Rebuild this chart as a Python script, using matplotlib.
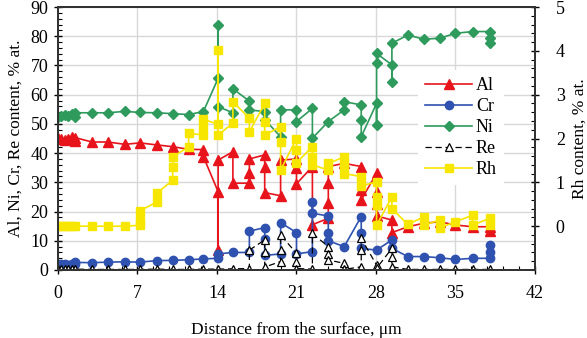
import matplotlib
matplotlib.use("Agg")
import matplotlib.pyplot as plt
from matplotlib.ticker import MultipleLocator

plt.rcParams['font.family'] = ['Liberation Serif', 'DejaVu Serif']

# --- data ---
x_al = [0, 0.3, 0.6, 0.9, 1.2, 1.5, 1.5, 3.0, 4.4, 5.9, 7.2, 8.7, 10.1, 11.5, 12.8, 12.8,
        14.1, 14.1, 14.1, 15.4, 15.4, 16.85, 16.85, 16.85, 18.2, 18.2, 18.2, 19.6, 19.6,
        21.0, 21.0, 21.0, 22.4, 22.4, 23.8, 23.8, 23.8, 23.8, 25.2, 26.7, 26.7, 26.7,
        28.05, 28.05, 28.05, 28.05, 29.4, 29.4, 30.8, 32.2, 33.6, 35.0, 36.5, 38.0, 38.0]
al = [45.2, 45.0, 44.6, 45.0, 45.5, 44.2, 45.3, 43.8, 43.8, 43.0, 43.5, 42.8, 42.2, 41.3, 41.2, 38.8,
      26.8, 6.8, 37.6, 40.5, 29.7, 29.7, 33.2, 38.0, 39.4, 35.4, 26.5, 25.4, 37.6,
      38.0, 34.8, 29.5, 35.4, 15.5, 17.7, 23.0, 29.7, 35.4, 36.5, 35.4, 27.4, 24.0,
      33.1, 26.8, 22.5, 18.5, 17.1, 12.8, 14.8, 16.0, 16.5, 15.4, 14.8, 14.8, 13.2]

x_cr = [0, 0.3, 0.6, 0.9, 1.2, 1.5, 1.5, 3.0, 4.4, 5.9, 7.2, 8.7, 10.1, 11.5, 12.8,
        14.1, 14.1, 15.4, 16.85, 16.85, 18.2, 18.2, 18.2, 19.6, 19.6, 21.0, 21.0,
        22.4, 22.4, 22.4, 23.8, 23.8, 23.8, 25.2, 26.7, 26.7, 26.7, 28.05, 29.4, 29.4,
        30.8, 32.2, 33.6, 35.0, 36.5, 38.0, 38.0, 38.0]
cr = [2.2, 2.0, 2.1, 1.8, 2.0, 1.9, 2.6, 2.5, 2.7, 2.8, 2.7, 3.2, 3.3, 3.5, 3.8,
      4.0, 5.5, 6.0, 6.0, 13.3, 14.5, 10.5, 5.0, 5.5, 16.2, 12.8, 5.5,
      6.3, 23.4, 19.4, 18.5, 12.5, 10.0, 8.0, 18.3, 12.5, 7.4, 6.8, 10.3, 7.4,
      4.6, 4.6, 4.2, 3.6, 4.0, 4.0, 6.3, 8.6]

x_ni = [0, 0.3, 0.6, 0.9, 1.2, 1.5, 1.5, 3.0, 4.4, 5.9, 7.2, 8.7, 10.1, 11.5, 12.8,
        14.1, 14.1, 14.1, 15.4, 15.4, 16.85, 16.85, 18.2, 18.2, 19.6, 19.6, 21.0, 21.0,
        22.4, 22.4, 23.8, 25.2, 25.2, 26.7, 26.7, 26.7, 28.05, 28.05, 28.05, 28.05,
        29.4, 29.4, 29.4, 30.8, 32.2, 33.6, 35.0, 36.5, 38.0, 38.0, 38.0]
ni = [52.5, 52.6, 53.0, 52.8, 53.3, 52.4, 53.8, 53.8, 53.8, 54.3, 53.9, 53.8, 53.5, 53.2, 54.2,
      65.6, 83.8, 55.9, 53.8, 62.0, 57.8, 54.8, 54.2, 51.5, 45.6, 54.8, 54.8, 50.8,
      55.3, 45.1, 50.8, 54.8, 57.6, 56.5, 51.3, 45.6, 57.0, 49.6, 70.7, 74.1,
      70.2, 64.5, 77.6, 80.4, 79.0, 79.3, 81.0, 81.6, 81.6, 79.3, 77.6]

x_re = [0, 0.3, 0.6, 0.9, 1.2, 1.5, 3.0, 4.4, 5.9, 7.2, 8.7, 10.1, 11.5, 12.8, 14.1, 15.4,
        16.85, 16.85, 18.2, 18.2, 18.2, 19.6, 19.6, 19.6, 21.0, 21.0, 21.0, 22.4, 22.4,
        23.8, 23.8, 23.8, 25.2, 25.2, 26.7, 26.7, 26.7, 28.05, 28.05, 29.4, 29.4, 29.4,
        30.8, 32.2, 33.6, 35.0, 36.5, 38.0]
re = [0.3, 0.2, 0.2, 0.3, 0.2, 0.3, 0.2, 0.2, 0.2, 0.2, 0.3, 0.2, 0.2, 0.3, 0.3, 0.4,
      0.5, 6.8, 10.3, 6.0, 1.0, 2.9, 7.0, 12.0, 5.7, 2.9, 0.5, 0.3, 12.5,
      8.0, 5.5, 3.4, 2.3, 0.2, 1.1, 6.8, 10.8, 1.7, 0.6, 7.4, 4.6, 1.1,
      0.2, 0.2, 0.2, 0.2, 0.2, 0.2]

x_rh = [0, 0.3, 0.6, 0.9, 1.2, 1.5, 3.0, 4.4, 5.9, 7.2, 7.2, 7.2, 8.7, 8.7, 10.1, 10.1, 10.1,
        11.5, 11.5, 12.8, 12.8, 12.8, 14.1, 14.1, 14.1, 15.4, 15.4, 16.85, 16.85,
        18.2, 18.2, 18.2, 19.6, 19.6, 19.6, 21.0, 21.0, 21.0, 22.4, 22.4, 22.4,
        23.8, 23.8, 25.2, 25.2, 25.2, 26.7, 26.7, 28.05, 28.05, 28.05, 28.05,
        29.4, 29.4, 30.8, 32.2, 32.2, 33.6, 33.6, 35.0, 36.5, 36.5, 38.0, 38.0]
rh = [0, 0, 0, 0, 0, 0, 0, 0, 0, 0.02, 0.14, 0.35, 0.55, 0.75, 1.05, 1.35, 1.58,
      1.81, 2.12, 2.08, 2.27, 2.44, 2.32, 4.02, 2.08, 2.35, 2.84, 2.46, 2.15,
      2.80, 2.38, 2.08, 2.27, 1.92, 1.28, 2.0, 1.74, 1.45, 1.81, 1.58, 1.40,
      1.28, 1.43, 1.58, 1.39, 1.20, 1.13, 0.92, 1.01, 0.67, 0.48, 0.02,
      0.67, 0.40, 0.04, 0.21, 0.02, 0.14, -0.04, 0.1, 0.25, 0.02, 0.18, 0.02]

fig = plt.figure(figsize=(5.87, 3.38), dpi=100)
ax = fig.add_axes([58/587, 1-270/338, 477/587, 263/338])
ax2 = ax.twinx()

c_al, c_cr, c_ni, c_rh = '#e8141c', '#2f52b0', '#2e9a5c', '#f7e600'

ax.plot(x_al, al, color=c_al, marker='^', ms=6.5, lw=1.2, label='Al')
ax.plot(x_cr, cr, color=c_cr, marker='o', ms=6, lw=1.2, label='Cr')
ax.plot(x_ni, ni, color=c_ni, marker='D', ms=5, lw=1.2, label='Ni')
ax.plot(x_re, re, color='black', ls=(0, (5, 3)), marker='^', ms=6, mfc='white',
        mec='black', mew=0.9, lw=0.9, label='Re')
ax2.plot(x_rh, rh, color=c_rh, marker='s', ms=6, lw=1.2, label='Rh')

ax.set_xlim(0, 42)
ax.set_ylim(0, 90)
ax2.set_ylim(-1, 5)

ax.xaxis.set_major_locator(MultipleLocator(7))
ax.xaxis.set_minor_locator(MultipleLocator(1.4))
ax.yaxis.set_major_locator(MultipleLocator(10))
ax.yaxis.set_minor_locator(MultipleLocator(2))
ax2.set_yticks([0, 1, 2, 3, 4, 5])
ax2.yaxis.set_minor_locator(MultipleLocator(0.2))

ax.grid(True, which='major', color='#d8d8d8', lw=1)
ax.set_axisbelow(True)

for a in (ax, ax2):
    for s in a.spines.values():
        s.set_linewidth(1.4)
        s.set_color('#333333')
ax.tick_params(which='major', direction='inout', length=6, width=1, labelsize=13)
ax.tick_params(which='minor', direction='in', length=3, width=0.8)
ax.tick_params(axis='x', which='major', pad=8)
ax.tick_params(axis='y', which='major', pad=4)
ax2.tick_params(which='major', direction='inout', length=6, width=1, labelsize=13, pad=12)
ax2.tick_params(which='minor', direction='in', length=3, width=0.8)

ax.set_xlabel('Distance from the surface, μm', fontsize=12.5, labelpad=14)
ax.set_ylabel('Al, Ni, Cr, Re content, % at.', fontsize=12.5, labelpad=5)
ax2.set_ylabel('Rh content, % at.', fontsize=12.5, labelpad=5)

h1, l1 = ax.get_legend_handles_labels()
h2, l2 = ax2.get_legend_handles_labels()
leg = ax2.legend(h1 + h2, l1 + l2, loc='upper left', bbox_to_anchor=(0.755, 0.76),
                 borderaxespad=0, fontsize=13, labelspacing=0.22, handlelength=2.6,
                 handletextpad=0.2, borderpad=0.4, frameon=True, framealpha=1,
                 facecolor='white', edgecolor='none', fancybox=False)

fig.savefig('out.png', dpi=100)
